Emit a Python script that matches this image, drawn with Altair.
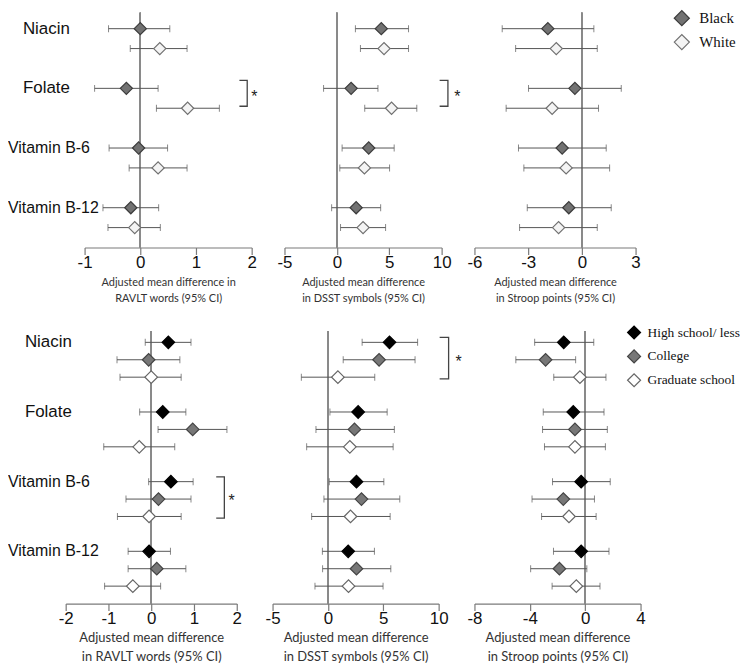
import altair as alt
import pandas as pd

vitamins = ["Niacin", "Folate", "Vitamin B-6", "Vitamin B-12"]
race_groups = ["Black", "White"]
edu_groups = ["High school/ less", "College", "Graduate school"]

# ---- Top row: by race (order: Niacin-Black, Niacin-White, Folate-Black, ...)
race_ravlt_est = [0.00, 0.35, -0.25, 0.85, -0.03, 0.32, -0.17, -0.10]
race_ravlt_lo = [-0.57, -0.18, -0.82, 0.29, -0.56, -0.20, -0.67, -0.58]
race_ravlt_hi = [0.53, 0.84, 0.32, 1.42, 0.49, 0.84, 0.33, 0.36]

race_dsst_est = [4.24, 4.50, 1.36, 5.22, 3.04, 2.63, 1.84, 2.50]
race_dsst_lo = [1.77, 2.25, -1.27, 2.66, 0.50, 0.28, -0.50, 0.35]
race_dsst_hi = [6.84, 6.84, 3.92, 7.63, 5.47, 5.03, 4.18, 4.65]

race_stroop_est = [-1.90, -1.43, -0.39, -1.66, -1.10, -0.88, -0.73, -1.30]
race_stroop_lo = [-4.45, -3.70, -2.98, -4.23, -3.54, -3.24, -3.05, -3.48]
race_stroop_hi = [0.67, 0.86, 2.20, 0.93, 1.36, 1.55, 1.64, 0.86]

# ---- Bottom row: by education (order: Niacin-HS, Niacin-College, Niacin-Grad, ...)
edu_ravlt_est = [0.40, -0.06, 0.00, 0.27, 0.97, -0.28, 0.46, 0.17, -0.05, -0.05, 0.13, -0.43]
edu_ravlt_lo = [-0.14, -0.80, -0.73, -0.27, 0.16, -1.11, -0.06, -0.59, -0.79, -0.54, -0.54, -1.09]
edu_ravlt_hi = [0.93, 0.67, 0.70, 0.81, 1.77, 0.55, 0.98, 0.93, 0.70, 0.45, 0.81, 0.22]

edu_dsst_est = [5.56, 4.62, 0.90, 2.73, 2.40, 1.98, 2.58, 3.03, 2.04, 1.83, 2.58, 1.86]
edu_dsst_lo = [3.09, 1.38, -2.40, 0.18, -1.08, -1.92, 0.12, -0.36, -1.47, -0.50, -0.48, -1.17]
edu_dsst_hi = [8.10, 7.87, 4.23, 5.35, 6.00, 5.89, 5.05, 6.49, 5.62, 4.20, 5.68, 4.98]

edu_stroop_est = [-1.55, -2.86, -0.38, -0.86, -0.74, -0.74, -0.29, -1.58, -1.17, -0.29, -1.86, -0.64]
edu_stroop_lo = [-3.65, -5.01, -2.27, -3.03, -3.08, -2.94, -2.36, -3.84, -3.15, -2.29, -3.94, -2.39]
edu_stroop_hi = [0.62, -0.69, 1.50, 1.36, 1.60, 1.46, 1.81, 0.67, 0.79, 1.72, 0.12, 1.07]

# Significance brackets: vitamin, arm start x, bracket x, star x (data units)
race_ravlt_sig = ["Folate", 1.78, 1.92, 2.05]
race_dsst_sig = ["Folate", 9.81, 10.6, 11.5]
edu_ravlt_sig = ["Vitamin B-6", 1.52, 1.71, 1.88]
edu_dsst_sig = ["Niacin", 10.09, 10.9, 11.8]


def make_df(groups, est, lo, hi, step):
    rows = []
    k = 0
    for vi, vit in enumerate(vitamins):
        for gi, g in enumerate(groups):
            rows.append(dict(vitamin=vit, group=g, pos=vi * step + gi,
                             est=est[k], lo=lo[k], hi=hi[k]))
            k += 1
    return pd.DataFrame(rows)


def yscale(ydom):
    return alt.Scale(domain=ydom, nice=False, zero=False, reverse=True)


def label_panel(step, ydom, w, h, dx_big):
    lab = pd.DataFrame({"name": vitamins, "pos": [i * step for i in range(4)]})
    Y = alt.Y("pos:Q", scale=yscale(ydom), axis=None)
    big = alt.Chart(lab).transform_filter(
        alt.FieldOneOfPredicate(field="name", oneOf=vitamins[:2])
    ).mark_text(align="left", baseline="middle", font="Liberation Sans",
                fontSize=17, color="#111", dx=dx_big).encode(
        x=alt.value(0), y=Y, text="name:N")
    small = alt.Chart(lab).transform_filter(
        alt.FieldOneOfPredicate(field="name", oneOf=vitamins[2:])
    ).mark_text(align="left", baseline="middle", font="Liberation Sans",
                fontSize=16, color="#111").encode(
        x=alt.value(0), y=Y, text="name:N")
    return alt.layer(big, small).properties(width=w, height=h)


def panel(df, groups, fills, strokes, xdom, xticks, title, w, h, ydom, step,
          sty, sig=None, legend=None):
    xs = alt.Scale(domain=xdom, nice=False, zero=False)
    ys = yscale(ydom)
    xaxis = alt.Axis(values=xticks, title=title, grid=False,
                     domainColor="#7a7a7a", domainWidth=1.2,
                     tickColor="#7a7a7a", tickWidth=1.2, tickSize=7,
                     labelFont="Liberation Sans", labelFontSize=sty["tick"],
                     labelColor="#111", labelPadding=0, labelFlush=False,
                     labelOverlap=False, labelExpr="'' + datum.value",
                     titleFont="Lato", titleFontSize=sty["title"],
                     titleFontWeight="normal", titleColor="#333",
                     titlePadding=sty["tpad"], titleLineHeight=sty["tlh"])

    def X(f):
        return alt.X(f, type="quantitative", scale=xs, axis=xaxis)

    Y = alt.Y("pos:Q", scale=ys, axis=None)

    zero = alt.Chart(df).mark_rule(color="#8a8a8a", strokeWidth=1.5).encode(
        x=alt.XDatum(0, type="quantitative", scale=xs, axis=xaxis))
    bars = alt.Chart(df).mark_rule(color="#555", strokeWidth=1).encode(
        x=X("lo"), x2="hi", y=Y)
    cap_lo = alt.Chart(df).mark_tick(orient="vertical", size=7, thickness=1,
                                     color="#555").encode(x=X("lo"), y=Y)
    cap_hi = alt.Chart(df).mark_tick(orient="vertical", size=7, thickness=1,
                                     color="#555").encode(x=X("hi"), y=Y)
    pts = alt.Chart(df).mark_point(shape="diamond", filled=True, size=sty["size"],
                                   strokeWidth=1.2, opacity=1).encode(
        x=X("est"), y=Y,
        fill=alt.Fill("group:N", scale=alt.Scale(domain=groups, range=fills),
                      legend=legend),
        stroke=alt.Stroke("group:N", scale=alt.Scale(domain=groups, range=strokes),
                          legend=None))
    layers = [zero, bars, cap_lo, cap_hi, pts]

    if sig is not None:
        vit, xa, xb, xstar = sig
        vi = vitamins.index(vit)
        first = vi * step
        last = vi * step + len(groups) - 1
        ylo = first + sty["blo"]
        yhi = last + sty["bhi"]
        br = pd.DataFrame({"x": [xa, xb, xb, xa], "pos": [ylo, ylo, yhi, yhi],
                           "o": [0, 1, 2, 3]})
        st = pd.DataFrame({"x": [xstar], "pos": [(ylo + yhi) / 2], "t": ["*"]})
        bline = alt.Chart(br).mark_line(color="#444", strokeWidth=1.3).encode(
            x=X("x"), y=Y, order="o:Q")
        star = alt.Chart(st).mark_text(font="Liberation Sans", fontSize=16,
                                       color="#222", baseline="middle",
                                       dy=4).encode(x=X("x"), y=Y, text="t:N")
        layers += [bline, star]

    return alt.layer(*layers).properties(width=w, height=h)


top_sty = dict(tick=17, title=11, tpad=6, tlh=16, size=150,
               blo=-0.4, bhi=-0.1)
bot_sty = dict(tick=17, title=13, tpad=5, tlh=19, size=160,
               blo=-0.28, bhi=0.1)

race_fills = ["#727272", "#f4f4f4"]
race_strokes = ["#3c3c3c", "#707070"]
edu_fills = ["#000000", "#777777", "#ffffff"]
edu_strokes = ["#000000", "#444444", "#666666"]

TOP_Y = [-0.8, 11]
BOT_Y = [-0.65, 15.0]
TOP_H = 236
BOT_H = 274

df_r1 = make_df(race_groups, race_ravlt_est, race_ravlt_lo, race_ravlt_hi, 3)
df_r2 = make_df(race_groups, race_dsst_est, race_dsst_lo, race_dsst_hi, 3)
df_r3 = make_df(race_groups, race_stroop_est, race_stroop_lo, race_stroop_hi, 3)
df_e1 = make_df(edu_groups, edu_ravlt_est, edu_ravlt_lo, edu_ravlt_hi, 4)
df_e2 = make_df(edu_groups, edu_dsst_est, edu_dsst_lo, edu_dsst_hi, 4)
df_e3 = make_df(edu_groups, edu_stroop_est, edu_stroop_lo, edu_stroop_hi, 4)

race_legend = alt.Legend(title=None, orient="none", legendX=200, legendY=-3,
                         symbolType="diamond", symbolSize=230,
                         symbolStrokeColor="#444", symbolStrokeWidth=1.2,
                         symbolOpacity=1, labelFont="Liberation Serif",
                         labelFontSize=15, labelColor="#111", labelOffset=9,
                         rowPadding=3, padding=0)
edu_legend = alt.Legend(title=None, orient="none", legendX=153, legendY=-6,
                        symbolType="diamond", symbolSize=170,
                        symbolStrokeColor="#444", symbolStrokeWidth=1.2,
                        symbolOpacity=1, labelFont="Liberation Serif",
                        labelFontSize=13.5, labelColor="#111", labelOffset=6,
                        rowPadding=5, padding=0)

p0 = label_panel(3, TOP_Y, 44, TOP_H, 15)
p1 = panel(df_r1, race_groups, race_fills, race_strokes, [-1, 2], [-1, 0, 1, 2],
           ["Adjusted mean difference in", "RAVLT words (95% CI)"],
           168, TOP_H, TOP_Y, 3, top_sty, sig=race_ravlt_sig)
p2 = panel(df_r2, race_groups, race_fills, race_strokes, [-5, 10], [-5, 0, 5, 10],
           ["Adjusted mean difference", "in DSST symbols (95% CI)"],
           158, TOP_H, TOP_Y, 3, top_sty, sig=race_dsst_sig)
p3 = panel(df_r3, race_groups, race_fills, race_strokes, [-6, 3], [-6, -3, 0, 3],
           ["Adjusted mean difference", "in Stroop points (95% CI)"],
           162, TOP_H, TOP_Y, 3, top_sty, legend=race_legend)

q0 = label_panel(4, BOT_Y, 22, BOT_H, 17)
q1 = panel(df_e1, edu_groups, edu_fills, edu_strokes, [-2, 2], [-2, -1, 0, 1, 2],
           ["Adjusted mean difference", "in RAVLT words (95% CI)"],
           172, BOT_H, BOT_Y, 4, bot_sty, sig=edu_ravlt_sig)
q2 = panel(df_e2, edu_groups, edu_fills, edu_strokes, [-5, 10], [-5, 0, 5, 10],
           ["Adjusted mean difference", "in DSST symbols (95% CI)"],
           167, BOT_H, BOT_Y, 4, bot_sty, sig=edu_dsst_sig)
q3 = panel(df_e3, edu_groups, edu_fills, edu_strokes, [-8, 4], [-8, -4, 0, 4],
           ["Adjusted mean difference", "in Stroop points (95% CI)"],
           167, BOT_H, BOT_Y, 4, bot_sty, legend=edu_legend)

top = alt.hconcat(p0, p1, p2, p3, spacing=33, bounds="flush").resolve_scale(
    fill="independent", stroke="independent")
bottom = alt.hconcat(q0, q1, q2, q3, spacing=36, bounds="flush").resolve_scale(
    fill="independent", stroke="independent")

chart = alt.vconcat(top, bottom, spacing=22, bounds="full").resolve_scale(
    fill="independent", stroke="independent"
).configure_view(stroke=None).properties(padding=0, background="white")

chart.save("out.html", embed_options={"renderer": "svg", "actions": False})
